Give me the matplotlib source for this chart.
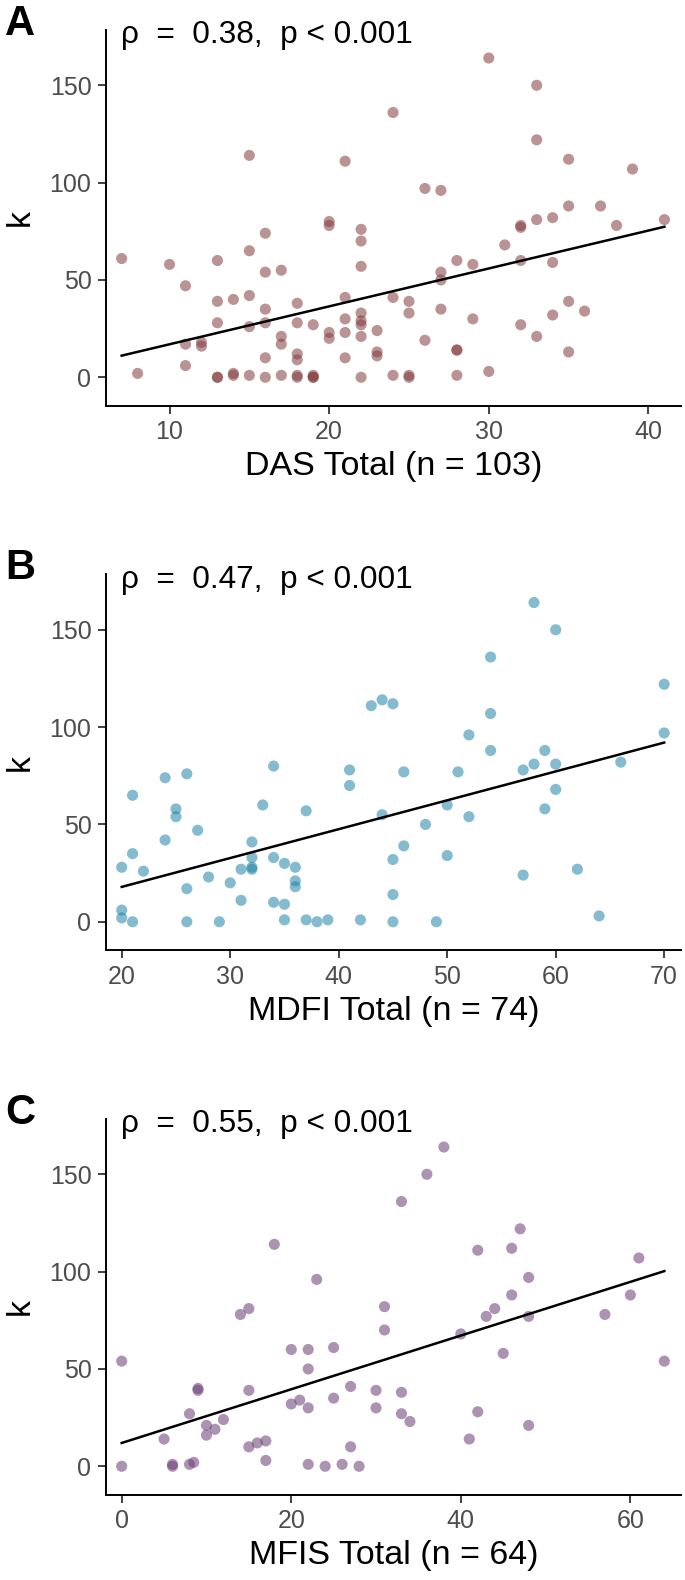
import numpy as np
import matplotlib
matplotlib.use("Agg")
import matplotlib.pyplot as plt

plt.rcParams['font.family'] = ['Liberation Sans', 'DejaVu Sans']

# panel A: DAS total vs k
das_x = [7, 8, 10, 11, 11, 11, 12, 12, 13, 13, 13, 13, 13, 14, 14, 14,
         15, 15, 15, 15, 15, 16, 16, 16, 16, 16, 16, 17, 17, 17, 17,
         18, 18, 18, 18, 18, 18, 19, 19, 19, 19, 20, 20, 20, 20,
         21, 21, 21, 21, 21, 22, 22, 22, 22, 22, 22, 22, 22, 23, 23, 23,
         24, 24, 24, 25, 25, 25, 25, 26, 26, 27, 27, 27, 27, 28, 28, 28, 28,
         29, 29, 30, 30, 31, 32, 32, 32, 32, 33, 33, 33, 33, 34, 34, 34,
         35, 35, 35, 35, 36, 37, 38, 39, 41]
das_k = [61, 2, 58, 47, 17, 6, 18, 16, 60, 39, 28, 0, 0, 40, 2, 1,
         114, 65, 42, 26, 1, 74, 54, 35, 28, 10, 0, 55, 21, 17, 1,
         38, 28, 12, 9, 1, 0, 27, 1, 0, 0, 80, 78, 23, 20,
         111, 41, 30, 23, 10, 76, 70, 57, 33, 29, 27, 21, 0, 24, 13, 11,
         136, 41, 1, 39, 33, 1, 0, 97, 19, 96, 54, 50, 35, 60, 14, 14, 1,
         58, 30, 164, 3, 68, 78, 77, 60, 27, 150, 122, 81, 21, 82, 59, 32,
         112, 88, 39, 13, 34, 88, 78, 107, 81]

# panel B: MDFI total vs k
mdfi_x = [20, 20, 20, 21, 21, 21, 22, 24, 24, 25, 25, 26, 26, 26, 27, 28, 29, 30,
          31, 31, 32, 32, 32, 32, 33, 34, 34, 34, 35, 35, 35, 36, 36, 36, 37, 37,
          38, 39, 41, 41, 42, 43, 44, 44, 45, 45, 45, 45, 46, 46, 48, 49, 50, 50,
          51, 52, 52, 54, 54, 54, 57, 57, 58, 58, 59, 59, 60, 60, 60, 62, 64, 66,
          70, 70]
mdfi_k = [28, 6, 2, 65, 35, 0, 26, 74, 42, 58, 54, 76, 17, 0, 47, 23, 0, 20,
          27, 11, 41, 33, 28, 27, 60, 80, 33, 10, 30, 9, 1, 28, 21, 18, 57, 1,
          0, 1, 78, 70, 1, 111, 114, 55, 112, 32, 14, 0, 77, 39, 50, 0, 60, 34,
          77, 96, 54, 136, 107, 88, 78, 24, 164, 81, 88, 58, 150, 81, 68, 27, 3, 82,
          122, 97]

# panel C: MFIS total vs k
mfis_x = [0, 0, 5, 6, 6, 8, 8, 8.5, 9, 9, 10, 10, 11, 12, 14, 15, 15, 15, 16,
          17, 17, 18, 20, 20, 21, 22, 22, 22, 22, 23, 24, 25, 25, 26, 27, 27, 28,
          30, 30, 31, 31, 33, 33, 33, 34, 36, 38, 40, 41, 42, 42, 43, 44, 45,
          46, 46, 47, 48, 48, 48, 57, 60, 61, 64]
mfis_k = [54, 0, 14, 1, 0, 27, 1, 2, 40, 39, 21, 16, 19, 24, 78, 81, 39, 10, 12,
          13, 3, 114, 60, 32, 34, 60, 50, 30, 1, 96, 0, 61, 35, 1, 41, 10, 0,
          39, 30, 82, 70, 136, 38, 27, 23, 150, 164, 68, 14, 111, 28, 77, 81, 58,
          112, 88, 122, 97, 77, 21, 78, 88, 107, 54]

panels = [
    ("A", das_x, das_k, "#823c3c", "DAS Total (n = 103)", "0.38", [10, 20, 30, 40], (6.02, 42.04)),
    ("B", mdfi_x, mdfi_k, "#1f84a6", "MDFI Total (n = 74)", "0.47", [20, 30, 40, 50, 60, 70], (18.55, 71.55)),
    ("C", mfis_x, mfis_k, "#6a3a74", "MFIS Total (n = 64)", "0.55", [0, 20, 40, 60], (-1.85, 65.97)),
]

W, H = 685, 1580
fig = plt.figure(figsize=(W / 100, H / 100), dpi=100)

for i, (letter, xs, ks, col, xlab, rho, xt, xl) in enumerate(panels):
    off = i * 544.5
    top, bot = 30 + off, 405.7 + off
    ax = fig.add_axes([106 / W, 1 - bot / H, 575 / W, (bot - top) / H])
    ax.scatter(xs, ks, s=64, color=col, alpha=0.55, edgecolors='none', zorder=2)

    # least squares line over the data range
    xs_a = np.array(xs, dtype=float)
    b, a = np.polyfit(xs_a, np.array(ks, dtype=float), 1)
    xx = np.array([xs_a.min(), xs_a.max()])
    ax.plot(xx, a + b * xx, color='black', lw=1.8, zorder=3)

    ax.set_xlim(*xl)
    ax.set_ylim(-14.6, 178.4)
    ax.set_xticks(xt)
    ax.set_yticks([0, 50, 100, 150])
    for s in ['top', 'right']:
        ax.spines[s].set_visible(False)
    for s in ['left', 'bottom']:
        ax.spines[s].set_linewidth(1.4)
    ax.tick_params(length=6, width=1.3, color='#333333', labelcolor='#4d4d4d',
                   labelsize=18, pad=4.5)
    ax.set_xlabel(xlab, fontsize=24.5, labelpad=5)
    ax.set_ylabel("k", fontsize=24.5, labelpad=10)
    ax.text(0.026, 0.965, "ρ  =  " + rho + ",  p < 0.001", transform=ax.transAxes,
            fontsize=22.8, va='baseline', ha='left')

    fig.text(5 / W, 1 - (35 + off) / H, letter, fontsize=30, fontweight='bold',
             va='baseline', ha='left')

fig.savefig("out.png", dpi=100)
